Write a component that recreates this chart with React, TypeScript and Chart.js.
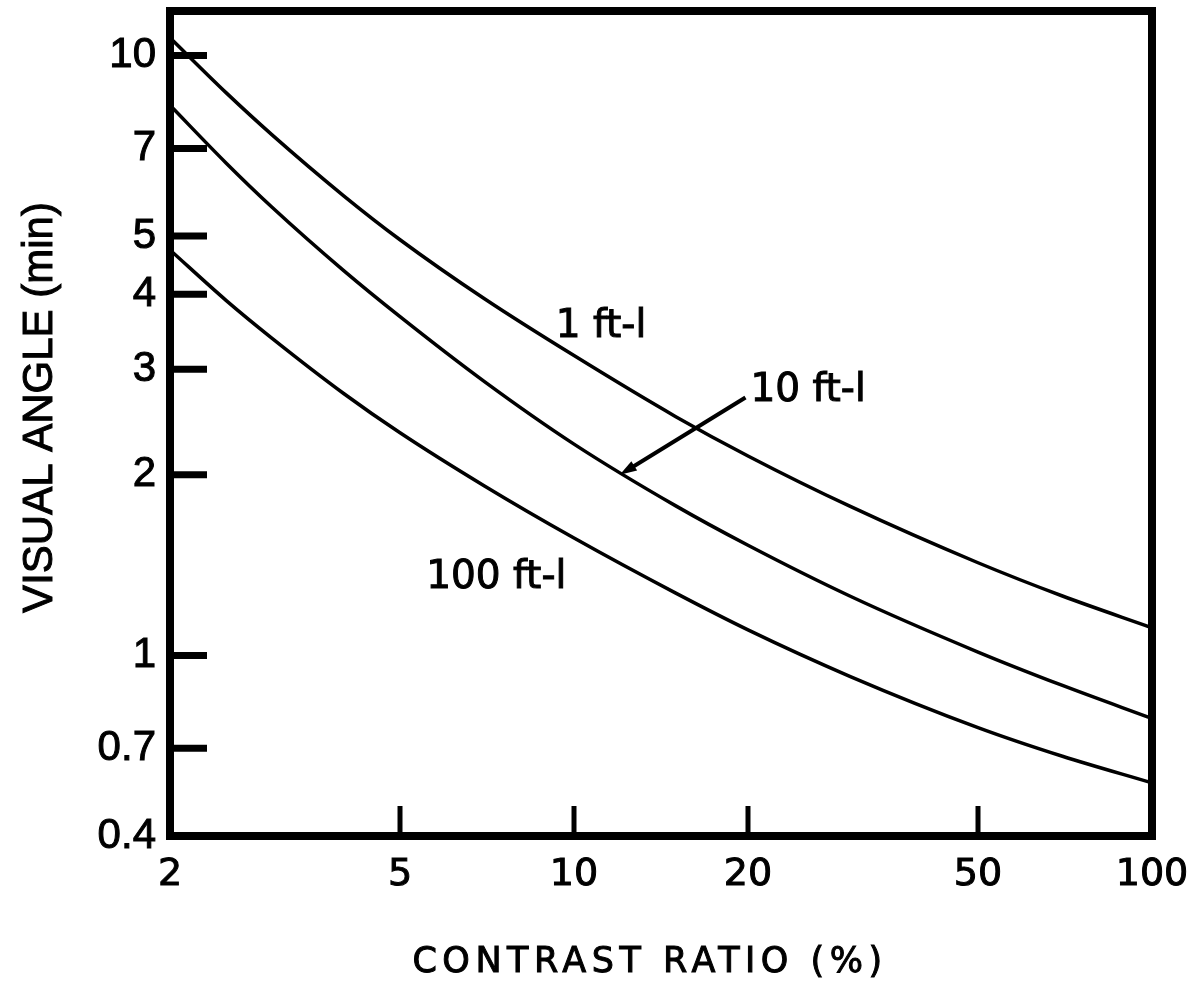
import React, { useEffect, useRef } from 'react';
import { Chart, registerables } from 'chart.js';

Chart.register(...registerables);

// ---- data ----
const contrastRatio = [2, 2.5, 3, 4, 5, 7, 10, 15, 20, 30, 50, 70, 100];
const angle1ftL = [10.7, 8.67, 7.38, 5.83, 4.93, 3.93, 3.16, 2.5, 2.15, 1.773, 1.427, 1.256, 1.112];
const angle10ftL = [8.26, 6.62, 5.59, 4.375, 3.67, 2.86, 2.25, 1.775, 1.526, 1.256, 1.013, 0.891, 0.785];
const angle100ftL = [4.74, 3.907, 3.38, 2.73, 2.35, 1.916, 1.569, 1.27, 1.103, 0.923, 0.758, 0.679, 0.613];
const seriesNames = ['1 ft-l', '10 ft-l', '100 ft-l'];

const xTickValues = [2, 5, 10, 20, 50, 100];
const yTickValues = [0.5, 0.7, 1, 2, 3, 4, 5, 7, 10];
const yTickLabels = ['0.4', '0.7', '1', '2', '3', '4', '5', '7', '10'];
const xAxisTitle = 'CONTRAST RATIO (%)';
const yAxisTitle = 'VISUAL ANGLE (min)';

// label anchors in data coordinates (x, y)
const labelAnchorX = [9.3, 20.2, 5.55];
const labelAnchorY = [3.39, 2.65, 1.295];
const arrowFromXY = [19.8, 2.69];
const arrowToXY = [12.0, 2.0];

const X_MIN = 2;
const X_MAX = 100;
const Y_MIN = 0.5;
const Y_MAX = 11.86;

const annotPlugin = {
  id: 'annot',
  afterDatasetsDraw(chart: any) {
    const { ctx, chartArea: a, scales } = chart;
    const xs = scales.x;
    const ys = scales.y;
    ctx.save();
    ctx.strokeStyle = '#000';
    ctx.fillStyle = '#000';
    ctx.lineCap = 'butt';

    // inward y tick marks
    ctx.lineWidth = 7;
    ys.ticks.forEach((t: any) => {
      const py = ys.getPixelForValue(t.value);
      if (py >= a.bottom - 3 || py <= a.top + 3) return;
      ctx.beginPath();
      ctx.moveTo(a.left, py);
      ctx.lineTo(a.left + 37, py);
      ctx.stroke();
    });
    // inward x tick marks
    ctx.lineWidth = 5;
    xs.ticks.forEach((t: any) => {
      const px = xs.getPixelForValue(t.value);
      if (px <= a.left + 3 || px >= a.right - 3) return;
      ctx.beginPath();
      ctx.moveTo(px, a.bottom);
      ctx.lineTo(px, a.bottom - 30);
      ctx.stroke();
    });

    // frame
    ctx.lineWidth = 8;
    ctx.strokeRect(a.left, a.top, a.right - a.left, a.bottom - a.top);

    // curve labels
    ctx.font = '39px "DejaVu Sans"';
    ctx.textAlign = 'left';
    ctx.textBaseline = 'alphabetic';
    ctx.lineWidth = 1;
    seriesNames.forEach((name, i) => {
      const px = xs.getPixelForValue(labelAnchorX[i]);
      const py = ys.getPixelForValue(labelAnchorY[i]);
      ctx.strokeText(name, px, py);
      ctx.fillText(name, px, py);
    });

    // arrow
    const x1 = xs.getPixelForValue(arrowFromXY[0]);
    const y1 = ys.getPixelForValue(arrowFromXY[1]);
    const x2 = xs.getPixelForValue(arrowToXY[0]);
    const y2 = ys.getPixelForValue(arrowToXY[1]);
    const ang = Math.atan2(y2 - y1, x2 - x1);
    const headLen = 17;
    const headW = 5.5;
    ctx.lineWidth = 4;
    ctx.beginPath();
    ctx.moveTo(x1, y1);
    ctx.lineTo(x2 - Math.cos(ang) * headLen * 0.8, y2 - Math.sin(ang) * headLen * 0.8);
    ctx.stroke();
    ctx.beginPath();
    ctx.moveTo(x2, y2);
    ctx.lineTo(
      x2 - Math.cos(ang) * headLen + Math.sin(ang) * headW,
      y2 - Math.sin(ang) * headLen - Math.cos(ang) * headW
    );
    ctx.lineTo(
      x2 - Math.cos(ang) * headLen - Math.sin(ang) * headW,
      y2 - Math.sin(ang) * headLen + Math.cos(ang) * headW
    );
    ctx.closePath();
    ctx.fill();

    // axis titles
    ctx.lineWidth = 1;
    ctx.font = '35px "DejaVu Sans"';
    ctx.textAlign = 'center';
    ctx.textBaseline = 'alphabetic';
    (ctx as any).letterSpacing = '5.5px';
    ctx.strokeText(xAxisTitle, 650, 972);
    ctx.fillText(xAxisTitle, 650, 972);
    (ctx as any).letterSpacing = '0px';
    ctx.font = '42px "Liberation Sans", Arial, sans-serif';
    ctx.translate(52, 407.5);
    ctx.rotate(-Math.PI / 2);
    ctx.strokeText(yAxisTitle, 0, 0);
    ctx.fillText(yAxisTitle, 0, 0);
    ctx.restore();
  },
};

export default function App() {
  const ref = useRef<HTMLCanvasElement>(null);

  useEffect(() => {
    const canvas = ref.current;
    if (!canvas) return;
    const mk = (vals: number[]) => contrastRatio.map((x, i) => ({ x, y: vals[i] }));
    const ds = (label: string, vals: number[]) => ({
      label,
      data: mk(vals),
      borderColor: '#000',
      backgroundColor: '#000',
      borderWidth: 3.5,
      pointRadius: 0,
      fill: false,
      cubicInterpolationMode: 'monotone' as const,
    });
    const chart = new Chart(canvas, {
      type: 'line',
      data: {
        datasets: [
          ds(seriesNames[0], angle1ftL),
          ds(seriesNames[1], angle10ftL),
          ds(seriesNames[2], angle100ftL),
        ],
      },
      options: {
        animation: false,
        responsive: false,
        devicePixelRatio: 1,
        events: [],
        layout: { padding: { top: 11, right: 40, bottom: 0, left: 0 } },
        plugins: { legend: { display: false }, tooltip: { enabled: false }, title: { display: false } },
        scales: {
          x: {
            type: 'logarithmic',
            position: 'bottom',
            min: X_MIN,
            max: X_MAX,
            grid: { display: false, drawTicks: false },
            border: { display: false },
            title: { display: false },
            ticks: {
              autoSkip: false,
              maxRotation: 0,
              minRotation: 0,
              padding: 16,
              color: '#000',
              textStrokeColor: '#000',
              textStrokeWidth: 1,
              font: { family: '"DejaVu Sans"', size: 38 },
              callback: (v: any) => String(v),
            },
            afterBuildTicks: (s: any) => {
              s.ticks = xTickValues.map((v) => ({ value: v }));
            },
            afterFit: (s: any) => {
              s.height = 151;
              s.paddingLeft = 0;
              s.paddingRight = 0;
            },
          },
          y: {
            type: 'logarithmic',
            position: 'left',
            min: Y_MIN,
            max: Y_MAX,
            grid: { display: false, drawTicks: false },
            border: { display: false },
            title: { display: false },
            ticks: {
              autoSkip: false,
              padding: 14,
              color: '#000',
              textStrokeColor: '#000',
              textStrokeWidth: 1,
              font: { family: '"Liberation Sans", Arial, sans-serif', size: 42 },
              callback: (v: any) => {
                const i = yTickValues.indexOf(Number(v));
                return i >= 0 ? yTickLabels[i] : '';
              },
            },
            afterBuildTicks: (s: any) => {
              s.ticks = yTickValues.map((v) => ({ value: v }));
            },
            afterFit: (s: any) => {
              s.width = 170;
              s.paddingTop = 0;
              s.paddingBottom = 0;
            },
          },
        },
      } as any,
      plugins: [annotPlugin],
    });
    return () => chart.destroy();
  }, []);

  return (
    <div style={{ position: 'absolute', left: 0, top: 0, width: 1192, height: 987, background: '#fff' }}>
      <canvas ref={ref} width={1192} height={987} style={{ display: 'block' }} />
    </div>
  );
}
